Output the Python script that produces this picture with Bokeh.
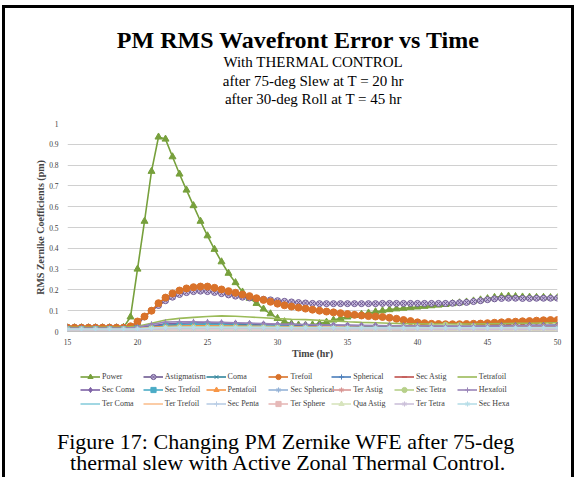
from bokeh.plotting import figure
from bokeh.layouts import column
from bokeh.models import Range1d, FixedTicker, CustomJSTickFormatter, Legend, LegendItem, Label
from bokeh.embed import file_html
from bokeh.resources import INLINE

# ---------------- data ----------------
T_FINE = [15.0, 15.5, 16.0, 16.5, 17.0, 17.5, 18.0, 18.5, 19.0, 19.5,
          20.0, 20.5, 21.0, 21.5, 22.0, 22.5, 23.0, 23.5, 24.0, 24.5,
          25.0, 25.5, 26.0, 26.5, 27.0, 27.5, 28.0, 28.5, 29.0, 29.5,
          30.0, 30.5, 31.0, 31.5, 32.0, 32.5, 33.0, 33.5, 34.0, 34.5,
          35.0, 35.5, 36.0, 36.5, 37.0, 37.5, 38.0, 38.5, 39.0, 39.5,
          40.0, 40.5, 41.0, 41.5, 42.0, 42.5, 43.0, 43.5, 44.0, 44.5,
          45.0, 45.5, 46.0, 46.5, 47.0, 47.5, 48.0, 48.5, 49.0, 49.5,
          50.0]
T_COARSE = [15, 16, 17, 18, 19, 20, 21, 22, 23, 24, 25, 26, 27, 28, 29, 30, 31, 32,
            33, 34, 35, 36, 37, 38, 39, 40, 41, 42, 43, 44, 45, 46, 47, 48, 49, 50]

POWER = [0.018, 0.018, 0.018, 0.018, 0.018, 0.018, 0.018, 0.018, 0.020, 0.070,
         0.300, 0.530, 0.770, 0.935, 0.925, 0.840, 0.757, 0.680, 0.605, 0.530,
         0.460, 0.395, 0.335, 0.280, 0.235, 0.190, 0.160, 0.135, 0.108, 0.085,
         0.063, 0.047, 0.037, 0.031, 0.030, 0.032, 0.038, 0.045, 0.055, 0.063,
         0.070, 0.077, 0.083, 0.089, 0.095, 0.100, 0.105, 0.109, 0.112, 0.115,
         0.118, 0.121, 0.124, 0.127, 0.130, 0.134, 0.138, 0.142, 0.147, 0.152,
         0.158, 0.164, 0.168, 0.170, 0.168, 0.166, 0.165, 0.164, 0.164, 0.163,
         0.163]
ASTIGMATISM = [0.020, 0.020, 0.020, 0.020, 0.020, 0.020, 0.020, 0.020, 0.020, 0.020,
               0.035, 0.070, 0.100, 0.125, 0.148, 0.165, 0.178, 0.187, 0.192, 0.194,
               0.192, 0.188, 0.182, 0.176, 0.170, 0.165, 0.161, 0.158, 0.155, 0.152,
               0.148, 0.145, 0.142, 0.139, 0.137, 0.135, 0.134, 0.134, 0.134, 0.134,
               0.134, 0.134, 0.134, 0.134, 0.134, 0.135, 0.135, 0.135, 0.135, 0.135,
               0.135, 0.135, 0.135, 0.135, 0.135, 0.136, 0.138, 0.140, 0.144, 0.148,
               0.153, 0.157, 0.159, 0.160, 0.160, 0.159, 0.159, 0.160, 0.160, 0.160,
               0.160]
TREFOIL = [0.018, 0.018, 0.018, 0.018, 0.018, 0.018, 0.018, 0.018, 0.018, 0.025,
           0.048, 0.072, 0.100, 0.136, 0.163, 0.183, 0.197, 0.207, 0.213, 0.216,
           0.216, 0.210, 0.202, 0.194, 0.186, 0.178, 0.170, 0.160, 0.152, 0.143,
           0.134, 0.126, 0.120, 0.115, 0.110, 0.105, 0.100, 0.096, 0.092, 0.088,
           0.084, 0.080, 0.077, 0.074, 0.072, 0.070, 0.066, 0.061, 0.055, 0.050,
           0.044, 0.040, 0.037, 0.036, 0.035, 0.035, 0.035, 0.036, 0.037, 0.038,
           0.040, 0.042, 0.044, 0.046, 0.047, 0.049, 0.050, 0.052, 0.054, 0.055,
           0.055]
COMA = [0.015, 0.015, 0.015, 0.015, 0.015,
        0.018, 0.025, 0.030, 0.033, 0.035, 0.036, 0.036, 0.035, 0.034, 0.033,
        0.032, 0.031, 0.030, 0.030, 0.029, 0.028, 0.027, 0.026, 0.026, 0.025,
        0.025, 0.025, 0.025, 0.026, 0.026, 0.027, 0.028, 0.028, 0.029, 0.029,
        0.030]
SPHERICAL = [0.010, 0.010, 0.010, 0.010, 0.010,
             0.010, 0.012, 0.015, 0.016, 0.017, 0.017, 0.017, 0.016, 0.016, 0.015,
             0.015, 0.014, 0.014, 0.013, 0.013, 0.012, 0.012, 0.011, 0.011, 0.010,
             0.010, 0.009, 0.009, 0.008, 0.008, 0.008, 0.008, 0.008, 0.008, 0.008,
             0.008]
SEC_ASTIG = [0.008, 0.008, 0.008, 0.008, 0.008,
             0.009, 0.010, 0.012, 0.013, 0.013, 0.013, 0.013, 0.013, 0.012, 0.012,
             0.012, 0.012, 0.011, 0.011, 0.011, 0.011, 0.011, 0.010, 0.010, 0.010,
             0.010, 0.010, 0.010, 0.010, 0.010, 0.010, 0.011, 0.011, 0.011, 0.011,
             0.011]
TETRAFOIL = [0.020, 0.020, 0.020, 0.020, 0.020,
             0.025, 0.040, 0.055, 0.063, 0.068, 0.072, 0.075, 0.073, 0.070, 0.066,
             0.062, 0.059, 0.057, 0.054, 0.051, 0.047, 0.044, 0.042, 0.040, 0.038,
             0.037, 0.036, 0.036, 0.036, 0.036, 0.037, 0.038, 0.039, 0.040, 0.041,
             0.042]
SEC_COMA = [0.015, 0.015, 0.015, 0.015, 0.015,
            0.018, 0.028, 0.036, 0.040, 0.042, 0.042, 0.041, 0.040, 0.038, 0.036,
            0.034, 0.033, 0.032, 0.031, 0.030, 0.030, 0.029, 0.029, 0.028, 0.028,
            0.028, 0.028, 0.028, 0.028, 0.028, 0.028, 0.029, 0.029, 0.030, 0.030,
            0.030]
SEC_TREFOIL = [0.012, 0.012, 0.012, 0.012, 0.012,
               0.014, 0.020, 0.027, 0.031, 0.033, 0.033, 0.032, 0.030, 0.028, 0.026,
               0.024, 0.022, 0.020, 0.018, 0.016, 0.015, 0.013, 0.012, 0.010, 0.009,
               0.008, 0.007, 0.006, 0.005, 0.005, 0.004, 0.004, 0.004, 0.004, 0.005,
               0.006]
PENTAFOIL = [0.012, 0.012, 0.012, 0.012, 0.012,
             0.014, 0.020, 0.024, 0.026, 0.027, 0.027, 0.026, 0.026, 0.025, 0.024,
             0.023, 0.022, 0.021, 0.021, 0.020, 0.020, 0.019, 0.019, 0.018, 0.018,
             0.018, 0.018, 0.019, 0.019, 0.020, 0.021, 0.022, 0.023, 0.024, 0.025,
             0.025]
SEC_SPHERICAL = [0.008, 0.008, 0.008, 0.008, 0.008,
                 0.009, 0.011, 0.013, 0.014, 0.014, 0.014, 0.014, 0.013, 0.013, 0.013,
                 0.012, 0.012, 0.012, 0.011, 0.011, 0.011, 0.011, 0.010, 0.010, 0.010,
                 0.010, 0.010, 0.010, 0.010, 0.010, 0.010, 0.010, 0.011, 0.011, 0.011,
                 0.011]
TER_ASTIG = [0.010, 0.010, 0.010, 0.010, 0.010,
             0.011, 0.013, 0.015, 0.016, 0.016, 0.016, 0.016, 0.015, 0.015, 0.015,
             0.014, 0.014, 0.014, 0.013, 0.013, 0.013, 0.013, 0.012, 0.012, 0.012,
             0.012, 0.012, 0.012, 0.012, 0.012, 0.012, 0.013, 0.013, 0.013, 0.013,
             0.013]
SEC_TETRA = [0.012, 0.012, 0.012, 0.012, 0.012,
             0.013, 0.016, 0.019, 0.021, 0.022, 0.022, 0.022, 0.021, 0.021, 0.020,
             0.020, 0.019, 0.019, 0.018, 0.018, 0.018, 0.018, 0.019, 0.020, 0.022,
             0.025, 0.030, 0.033, 0.030, 0.026, 0.024, 0.022, 0.021, 0.020, 0.020,
             0.020]
HEXAFOIL = [0.015, 0.015, 0.015, 0.015, 0.015,
            0.020, 0.035, 0.045, 0.047, 0.047, 0.046, 0.044, 0.042, 0.040, 0.038,
            0.036, 0.035, 0.034, 0.032, 0.031, 0.030, 0.029, 0.028, 0.028, 0.027,
            0.027, 0.027, 0.026, 0.026, 0.026, 0.026, 0.026, 0.027, 0.027, 0.027,
            0.027]
TER_COMA = [0.008, 0.008, 0.008, 0.008, 0.008,
            0.009, 0.011, 0.013, 0.014, 0.014, 0.014, 0.014, 0.014, 0.014, 0.014,
            0.013, 0.013, 0.013, 0.013, 0.013, 0.012, 0.012, 0.012, 0.012, 0.012,
            0.011, 0.011, 0.011, 0.011, 0.011, 0.011, 0.011, 0.011, 0.011, 0.011,
            0.011]
TER_TREFOIL = [0.010, 0.010, 0.010, 0.010, 0.010,
               0.011, 0.013, 0.015, 0.016, 0.017, 0.017, 0.017, 0.016, 0.016, 0.016,
               0.015, 0.015, 0.015, 0.015, 0.015, 0.014, 0.014, 0.014, 0.014, 0.014,
               0.014, 0.014, 0.014, 0.014, 0.014, 0.015, 0.015, 0.015, 0.015, 0.015,
               0.016]
SEC_PENTA = [0.006, 0.006, 0.006, 0.006, 0.006,
             0.007, 0.008, 0.009, 0.010, 0.010, 0.010, 0.010, 0.010, 0.010, 0.010,
             0.009, 0.009, 0.009, 0.009, 0.009, 0.009, 0.009, 0.009, 0.009, 0.009,
             0.008, 0.008, 0.008, 0.008, 0.008, 0.008, 0.008, 0.008, 0.008, 0.008,
             0.008]
TER_SPHERE = [0.005, 0.005, 0.005, 0.005, 0.005,
              0.005, 0.006, 0.007, 0.008, 0.008, 0.008, 0.008, 0.008, 0.008, 0.008,
              0.008, 0.008, 0.008, 0.008, 0.008, 0.007, 0.007, 0.007, 0.007, 0.007,
              0.007, 0.007, 0.007, 0.007, 0.007, 0.007, 0.007, 0.007, 0.007, 0.007,
              0.007]
QUA_ASTIG = [0.006, 0.006, 0.006, 0.006, 0.006,
             0.007, 0.008, 0.010, 0.011, 0.011, 0.011, 0.011, 0.011, 0.011, 0.011,
             0.010, 0.010, 0.010, 0.010, 0.010, 0.010, 0.010, 0.010, 0.010, 0.010,
             0.009, 0.009, 0.009, 0.009, 0.009, 0.009, 0.009, 0.009, 0.009, 0.009,
             0.009]
TER_TETRA = [0.007, 0.007, 0.007, 0.007, 0.007,
             0.008, 0.010, 0.012, 0.013, 0.013, 0.013, 0.013, 0.013, 0.013, 0.013,
             0.012, 0.012, 0.012, 0.012, 0.012, 0.012, 0.012, 0.012, 0.012, 0.012,
             0.011, 0.011, 0.011, 0.011, 0.011, 0.011, 0.011, 0.011, 0.011, 0.011,
             0.011]
SEC_HEXA = [0.012, 0.012, 0.012, 0.012, 0.012,
            0.013, 0.016, 0.019, 0.020, 0.020, 0.020, 0.020, 0.020, 0.020, 0.020,
            0.019, 0.019, 0.019, 0.019, 0.019, 0.018, 0.018, 0.018, 0.018, 0.018,
            0.018, 0.018, 0.018, 0.018, 0.018, 0.018, 0.018, 0.018, 0.018, 0.018,
            0.018]

NAMES = ["Power", "Astigmatism", "Coma", "Trefoil", "Spherical", "Sec Astig", "Tetrafoil",
         "Sec Coma", "Sec Trefoil", "Pentafoil", "Sec Spherical", "Ter Astig", "Sec Tetra", "Hexafoil",
         "Ter Coma", "Ter Trefoil", "Sec Penta", "Ter Sphere", "Qua Astig", "Ter Tetra", "Sec Hexa"]
SERIES_VALUES = [POWER, ASTIGMATISM, COMA, TREFOIL, SPHERICAL, SEC_ASTIG, TETRAFOIL,
                 SEC_COMA, SEC_TREFOIL, PENTAFOIL, SEC_SPHERICAL, TER_ASTIG, SEC_TETRA, HEXAFOIL,
                 TER_COMA, TER_TREFOIL, SEC_PENTA, TER_SPHERE, QUA_ASTIG, TER_TETRA, SEC_HEXA]
SERIES_TIMES = [T_FINE, T_FINE, T_COARSE, T_FINE] + [T_COARSE] * 17

X_TICKS = [15, 20, 25, 30, 35, 40, 45, 50]
Y_TICKS = [0, 0.1, 0.2, 0.3, 0.4, 0.5, 0.6, 0.7, 0.8, 0.9, 1.0]

TITLE = "PM RMS Wavefront Error vs Time"
SUBTITLES = ["With THERMAL CONTROL", "after 75-deg Slew at T = 20 hr", "after 30-deg Roll at T = 45 hr"]
CAPTIONS = ["Figure 17:  Changing PM Zernike WFE after 75-deg",
            "thermal slew with Active Zonal Thermal Control."]

# ---------------- styles ----------------
COLORS = ["#77A03C", "#6F5A92", "#31859C", "#D9722A", "#4A7EBB", "#C0504D", "#9BBB59",
          "#7E62A6", "#4BACC6", "#F79646", "#95B3D7", "#D99694", "#B7D08A", "#9A85B8",
          "#8ACDDD", "#FAC090", "#B9CDE5", "#E6B9B8", "#D7E4BD", "#CCC1DA", "#B7DEE8"]
FILLS = ["#77A03C", "#C9BDE0", "#31859C", "#D9722A", "#4A7EBB", "#C0504D", "#9BBB59",
         "#7E62A6", "#4BACC6", "#F79646", "#95B3D7", "#D99694", "#B7D08A", "#9A85B8",
         "#8ACDDD", "#FAC090", "#B9CDE5", "#E6B9B8", "#D7E4BD", "#CCC1DA", "#B7DEE8"]
MARKERS = ["triangle", "circle_x", "x", "circle", "cross", "dash", None,
           "diamond", "square", "triangle", "asterisk", "asterisk", "circle", "cross",
           None, None, "cross", "square", "triangle", "asterisk", "asterisk"]
SIZES = [7, 6, 5, 7, 5, 5, 0,
         6, 5, 5, 5, 5, 5, 6,
         0, 0, 5, 4, 4, 5, 5]

SERIF = "Liberation Serif, Times New Roman, serif"
W = 566
H_TOP, H_MID, H_BOT = 105, 248, 116
X0 = 100  # data origin of the blank panels (keeps real series off-screen there)


def blank_figure(h):
    f = figure(width=W, height=h, output_backend="svg", toolbar_location=None,
               x_range=Range1d(X0, X0 + W), y_range=Range1d(0, h),
               x_axis_location=None, y_axis_location=None, frame_align=False,
               min_border_left=0, min_border_right=0, min_border_top=0, min_border_bottom=0)
    f.grid.visible = False
    f.outline_line_color = None
    f.background_fill_color = "white"
    f.border_fill_color = "white"
    return f


# ---- titles ----
p0 = blank_figure(H_TOP)
p0.add_layout(Label(x=X0 + 293, y=74, text=TITLE, text_font=SERIF, text_font_size="24px",
                    text_font_style="bold", text_align="center", text_baseline="middle",
                    text_color="#000000"))
for txt, yy in zip(SUBTITLES, [52, 33, 15]):
    p0.add_layout(Label(x=X0 + 308, y=yy, text=txt, text_font=SERIF, text_font_size="15px",
                        text_align="center", text_baseline="middle", text_color="#000000"))

# ---- chart ----
p = figure(width=W, height=H_MID, output_backend="svg", toolbar_location=None,
           x_range=Range1d(15, 50), y_range=Range1d(0, 1), frame_align=False,
           min_border_left=62, min_border_right=14, min_border_top=10, min_border_bottom=30)
p.outline_line_color = None
p.background_fill_color = "white"
p.border_fill_color = "white"

p.xgrid.visible = False
p.ygrid.grid_line_color = "#D0D0D0"
p.ygrid.grid_line_width = 1
p.ygrid.ticker = FixedTicker(ticks=Y_TICKS)

p.xaxis.ticker = FixedTicker(ticks=X_TICKS)
p.xaxis.axis_line_color = "#BFBFBF"
p.xaxis.major_tick_line_color = None
p.xaxis.minor_tick_line_color = None
p.xaxis.major_label_text_font = SERIF
p.xaxis.major_label_text_font_size = "7.5px"
p.xaxis.major_label_text_color = "#404040"
p.xaxis.major_label_standoff = 1
p.xaxis.axis_label = "Time (hr)"
p.xaxis.axis_label_text_font = SERIF
p.xaxis.axis_label_text_font_style = "bold"
p.xaxis.axis_label_text_font_size = "10px"
p.xaxis.axis_label_standoff = 0

p.yaxis.ticker = FixedTicker(ticks=Y_TICKS)
p.yaxis.formatter = CustomJSTickFormatter(code="return (Math.round(tick*10)/10).toString();")
p.yaxis.axis_line_color = None
p.yaxis.major_tick_line_color = None
p.yaxis.minor_tick_line_color = None
p.yaxis.major_label_text_font = SERIF
p.yaxis.major_label_text_font_size = "7.5px"
p.yaxis.major_label_text_color = "#404040"
p.yaxis.major_label_standoff = 3
p.yaxis.axis_label = "RMS Zernike Coefficients (pm)"
p.yaxis.axis_label_text_font = SERIF
p.yaxis.axis_label_text_font_style = "bold"
p.yaxis.axis_label_text_font_size = "10px"
p.yaxis.axis_label_standoff = 0

for vals, ts, col, fc, mk, sz in zip(SERIES_VALUES, SERIES_TIMES, COLORS, FILLS, MARKERS, SIZES):
    p.line(ts, vals, line_color=col, line_width=1.6)
    if mk is not None:
        p.scatter(ts, vals, marker=mk, size=sz, line_color=col, fill_color=fc, line_width=1)

# ---- legend + caption (series drawn again here, outside this panel's visible range) ----
p2 = blank_figure(H_BOT)
for i, (name, vals, ts, col, fc, mk) in enumerate(zip(NAMES, SERIES_VALUES, SERIES_TIMES, COLORS, FILLS, MARKERS)):
    rs = [p2.line(ts, vals, line_color=col, line_width=1.6)]
    if mk is not None:
        rs.append(p2.scatter(ts, vals, marker=mk, line_color=col, fill_color=fc, line_width=1))
    row, c = divmod(i, 7)
    lg = Legend(items=[LegendItem(label=name, renderers=rs)],
                location=(75 + 62.8 * c, 94.5 - 13.5 * row),
                padding=0, margin=0, spacing=0,
                glyph_width=20, glyph_height=13, label_height=13, label_width=20, label_standoff=2,
                label_text_font=SERIF, label_text_font_size="8px", label_text_color="#404040",
                border_line_color=None, background_fill_alpha=0)
    p2.add_layout(lg, "center")

for txt, yy in zip(CAPTIONS, [36, 15]):
    p2.add_layout(Label(x=X0 + 283, y=yy, text=txt, text_font=SERIF, text_font_size="22px",
                        text_align="center", text_baseline="middle", text_color="#000000"))

layout = column(p0, p, p2, spacing=0,
                styles={"border-top": "3px solid #000000", "border-left": "3px solid #000000",
                        "border-right": "3px solid #000000", "margin": "5px 0px 0px 2px"})

open("out.html", "w").write(file_html(layout, INLINE))
